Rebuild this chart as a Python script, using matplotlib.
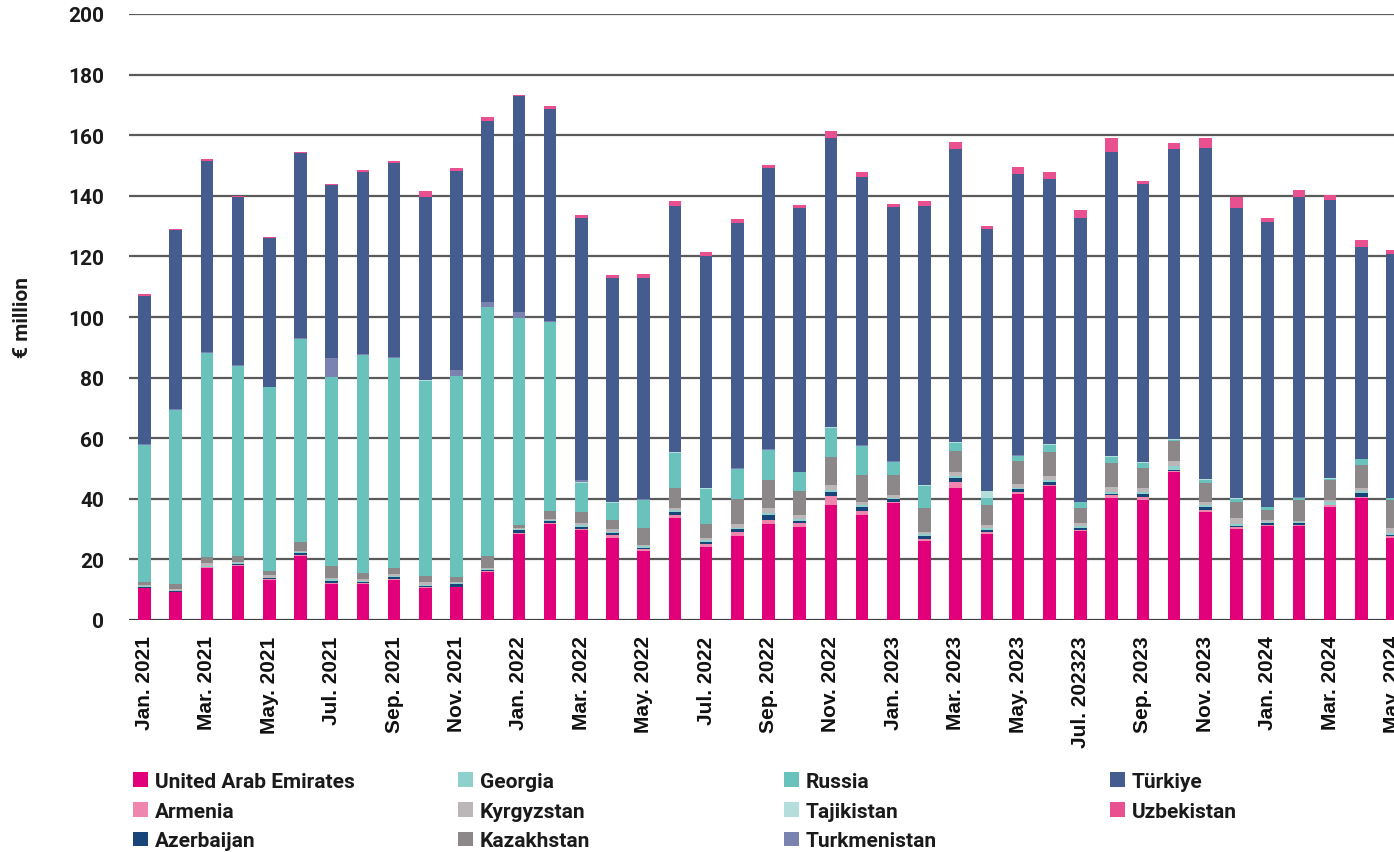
import matplotlib
matplotlib.use("Agg")
import matplotlib.pyplot as plt
import numpy as np

plt.rcParams['font.family'] = ['Roboto', 'DejaVu Sans']
plt.rcParams['font.weight'] = 'bold'

months = ["Jan. 2021", "Feb. 2021", "Mar. 2021", "Apr. 2021", "May. 2021", "Jun. 2021",
          "Jul. 2021", "Aug. 2021", "Sep. 2021", "Oct. 2021", "Nov. 2021", "Dec. 2021",
          "Jan. 2022", "Feb. 2022", "Mar. 2022", "Apr. 2022", "May. 2022", "Jun. 2022",
          "Jul. 2022", "Aug. 2022", "Sep. 2022", "Oct. 2022", "Nov. 2022", "Dec. 2022",
          "Jan. 2023", "Feb. 2023", "Mar. 2023", "Apr. 2023", "May. 2023", "Jun. 2023",
          "Jul. 202323", "Aug. 2023", "Sep. 2023", "Oct. 2023", "Nov. 2023", "Dec. 2023",
          "Jan. 2024", "Feb. 2024", "Mar. 2024", "Apr. 2024", "May. 2024"]

uae = [10.5, 9.1, 17.2, 17.9, 13.3, 21.2, 11.9, 11.9, 13.3, 10.5, 10.8, 15.9,
       28.5, 31.7, 29.6, 27.1, 22.8, 33.8, 24.1, 27.6, 31.6, 30.6, 37.8, 34.5,
       38.6, 26.1, 43.7, 28.3, 41.7, 44.1, 29.4, 40.2, 39.7, 49.0, 35.8, 30.0,
       30.9, 30.9, 37.2, 40.4, 27.0]
armenia = [0.2, 0.2, 0.2, 0.2, 0.2, 0.2, 0.3, 0.2, 0.3, 0.3, 0.2, 0.2,
           0.3, 0.3, 0.4, 1.1, 0.6, 0.9, 1.1, 1.4, 1.3, 1.3, 3.0, 1.5,
           0.4, 0.5, 2.0, 0.9, 0.6, 0.6, 0.4, 1.0, 1.0, 0.3, 0.6, 0.6,
           0.3, 0.3, 0.6, 0.3, 0.6]
azerbaijan = [0.2, 0.2, 0.2, 0.4, 0.2, 0.7, 0.8, 0.4, 0.7, 0.3, 0.8, 0.3,
              0.9, 0.8, 0.8, 0.4, 0.5, 1.1, 0.7, 0.9, 1.6, 0.8, 1.3, 1.2,
              0.8, 1.1, 1.0, 0.4, 0.8, 0.8, 0.7, 0.3, 0.8, 0.3, 0.9, 0.3,
              0.8, 0.8, 0.3, 1.3, 0.3]
georgia = [0.3, 0.2, 0.3, 0.2, 0.3, 0.3, 0.4, 0.3, 0.3, 0.3, 0.4, 0.3,
           0.3, 0.3, 0.5, 0.5, 0.4, 0.5, 0.6, 0.6, 0.8, 0.6, 0.9, 0.7,
           0.6, 0.6, 0.8, 0.6, 0.6, 0.6, 0.6, 0.9, 0.6, 1.2, 0.6, 0.8,
           0.4, 0.3, 0.7, 0.5, 0.8]
kyrgyzstan = [0.5, 0.6, 0.8, 0.5, 0.8, 0.5, 0.6, 0.7, 0.6, 1.0, 0.4, 0.6,
              0.3, 0.3, 0.8, 0.9, 0.5, 0.5, 0.7, 1.2, 1.5, 1.2, 1.5, 1.2,
              0.9, 0.9, 1.5, 1.1, 1.3, 1.3, 0.8, 1.6, 1.4, 1.6, 1.2, 1.9,
              0.5, 0.4, 0.7, 1.2, 1.8]
kazakhstan = [0.9, 1.6, 2.2, 2.0, 1.5, 2.8, 3.9, 2.0, 2.1, 2.2, 1.6, 3.8,
              1.0, 2.5, 3.4, 3.0, 5.6, 6.7, 4.5, 8.2, 9.3, 8.1, 9.2, 8.6,
              6.4, 7.7, 6.9, 6.7, 7.6, 8.2, 5.2, 7.8, 6.6, 6.6, 6.1, 5.5,
              3.5, 7.0, 6.8, 7.5, 9.2]
russia = [45.1, 57.4, 67.2, 62.5, 60.5, 67.0, 62.2, 72.0, 69.1, 64.4, 66.3, 82.2,
          68.4, 62.3, 9.7, 5.7, 9.1, 11.7, 11.6, 9.9, 9.9, 6.1, 9.7, 9.6,
          4.4, 7.4, 2.5, 2.4, 1.4, 2.3, 1.7, 2.0, 1.7, 0.5, 1.1, 0.9,
          0.8, 0.6, 0.3, 1.9, 0.5]
tajikistan = [0.1, 0.1, 0.1, 0.1, 0.1, 0.1, 0.1, 0.1, 0.1, 0.1, 0.1, 0.1,
              0.1, 0.1, 0.2, 0.1, 0.1, 0.3, 0.2, 0.2, 0.2, 0.2, 0.2, 0.2,
              0.2, 0.2, 0.2, 2.2, 0.2, 0.2, 0.2, 0.2, 0.2, 0.1, 0.1, 0.1,
              0.1, 0.1, 0.1, 0.1, 0.1]
turkmenistan = [0.2, 0.3, 0.2, 0.2, 0.1, 0.2, 6.2, 0.3, 0.2, 0.2, 2.0, 1.4,
                1.8, 0.3, 0.7, 0.2, 0.2, 0.1, 0.1, 0.1, 0.1, 0.1, 0.1, 0.1,
                0.1, 0.1, 0.1, 0.1, 0.1, 0.1, 0.1, 0.1, 0.1, 0.1, 0.1, 0.1,
                0.1, 0.1, 0.1, 0.1, 0.1]
turkiye = [49.0, 59.0, 63.1, 55.5, 49.0, 61.0, 57.0, 60.1, 64.1, 60.2, 65.7, 59.8,
           71.2, 70.2, 86.5, 74.0, 73.2, 81.1, 76.6, 80.9, 93.0, 87.1, 95.5, 88.6,
           83.9, 92.0, 96.9, 86.2, 92.8, 87.3, 93.5, 100.4, 91.7, 95.9, 109.4, 95.9,
           93.9, 99.1, 91.7, 69.8, 80.3]
uzbekistan = [0.5, 0.4, 0.5, 0.4, 0.5, 0.6, 0.5, 0.5, 0.7, 2.0, 0.8, 1.3,
              0.5, 0.9, 0.9, 0.9, 1.1, 1.7, 1.4, 1.3, 1.0, 0.8, 2.2, 1.8,
              1.1, 1.6, 2.0, 1.1, 2.5, 2.5, 2.6, 4.7, 1.1, 1.8, 3.3, 3.5,
              1.3, 2.2, 1.7, 2.2, 1.4]

series = [
    ("United Arab Emirates", uae, "#E2007A"),
    ("Armenia", armenia, "#EE86AE"),
    ("Azerbaijan", azerbaijan, "#17457A"),
    ("Georgia", georgia, "#8ED1CC"),
    ("Kyrgyzstan", kyrgyzstan, "#BBB7B8"),
    ("Kazakhstan", kazakhstan, "#8C8788"),
    ("Russia", russia, "#69C2BC"),
    ("Tajikistan", tajikistan, "#B3DEDB"),
    ("Turkmenistan", turkmenistan, "#7A83B0"),
    ("Türkiye", turkiye, "#455D8E"),
    ("Uzbekistan", uzbekistan, "#E8508F"),
]

W, H = 1394, 853
pitch = 31.2
n = len(months)
fig = plt.figure(figsize=(W / 100, H / 100), dpi=100)
ax = fig.add_axes([(144.5 - pitch / 2) / W, 232 / H, n * pitch / W, 606 / H])

x = np.arange(n)
bottom = np.zeros(n)
handles = {}
for name, vals, col in series:
    v = np.array(vals)
    bc = ax.bar(x, v, width=0.4, bottom=bottom, color=col, linewidth=0, label=name, zorder=3)
    handles[name] = bc
    bottom += v

ax.set_xlim(-0.5, n - 0.5)
ax.set_ylim(0, 200)
ax.set_yticks(np.arange(0, 201, 20))
ax.yaxis.grid(True, color="#5a5a5a", linewidth=1.6, zorder=0)
ax.set_axisbelow(True)
for s in ax.spines.values():
    s.set_visible(False)
ax.axhline(0, color="#333333", linewidth=1.8, zorder=2)

ax.set_xticks(x[::2])
ax.set_xticklabels(months[::2], rotation=90, fontsize=15, fontweight='bold',
                   fontfamily=['Liberation Sans', 'DejaVu Sans'], color="#111111")
ax.tick_params(axis='x', length=0, pad=11)
ax.tick_params(axis='y', length=0, pad=18, labelsize=15, labelcolor="#1a1a1a")
for lab in ax.get_yticklabels():
    lab.set_fontweight('bold')

fig.text(22 / W, 1 - 318 / H, "€ million", rotation=90, ha='center', va='center',
         fontsize=15, fontweight='bold', color="#1a1a1a")

cols = [["United Arab Emirates", "Armenia", "Azerbaijan"],
        ["Georgia", "Kyrgyzstan", "Kazakhstan"],
        ["Russia", "Tajikistan", "Turkmenistan"],
        ["Türkiye", "Uzbekistan"]]
col_x = [133, 458, 784, 1110]
for cx, names in zip(col_x, cols):
    leg = fig.legend([handles[nm] for nm in names], names, loc='upper left',
                     bbox_to_anchor=(cx / W, 1 - 773 / H), frameon=False,
                     borderpad=0, borderaxespad=0,
                     handlelength=0.72, handleheight=0.72, handletextpad=0.33,
                     labelspacing=0.51, prop={'weight': 'bold', 'size': 15})
    for t in leg.get_texts():
        t.set_color("#1a1a1a")

fig.savefig("out.png", dpi=100)
